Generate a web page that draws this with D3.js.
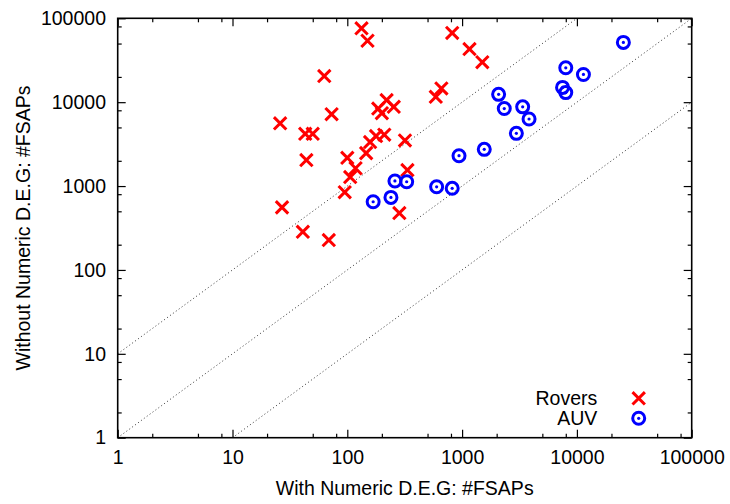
<!DOCTYPE html>
<html>
<head>
<meta charset="utf-8">
<script src="https://cdn.jsdelivr.net/npm/d3@7"></script>
<style>
  html, body { margin: 0; padding: 0; background: #fff; }
  svg { display: block; font-family: "Liberation Sans", Arial, Helvetica, sans-serif; }
</style>
</head>
<body>
<svg id="chart" width="730" height="504"></svg>
<script>
// #FSAPs counted with and without the numeric D.E.G., one point per model
const roversWith    = [133, 150, 820, 1160, 1500, 63, 73, 26, 43, 50, 44, 220, 186, 200, 254, 590, 660,
                       100, 158, 178, 210, 318, 146, 118, 106, 95, 334, 284, 27, 41, 69];
const roversWithout = [76000, 54000, 67000, 43000, 30000, 20500, 7200, 5600, 4200, 4200, 2040, 10600, 8400, 7400, 8800, 11600, 14600,
                       2170, 3350, 3950, 4100, 3500, 2470, 1630, 1280, 845, 1550, 477, 557, 285, 227];

const auvWith    = [168, 240, 260, 329, 600, 820, 940, 1560, 2080, 2330, 3370, 3830, 2970, 7500, 8000, 8000, 11400, 25400];
const auvWithout = [650, 733, 1150, 1125, 980, 940, 2300, 2740, 12400, 8400, 8800, 6300, 4250, 15000, 13000, 25700, 21400, 51600];

// Reference diagonals: without = factor * with
const diagonalFactors = [10, 1, 0.1];

const majorTicks = [1, 10, 100, 1000, 10000, 100000];
const minorTicks = [2, 5, 8, 20, 50, 80, 200, 500, 800, 2000, 5000, 8000, 20000, 50000, 80000];

const seriesNames = ["Rovers", "AUV"];
const xTitle = "With Numeric D.E.G: #FSAPs";
const yTitle = "Without Numeric D.E.G: #FSAPs";

const svg = d3.select("#chart");
const plotLeft = 117.7, plotRight = 691.7, plotTop = 18.3, plotBottom = 437.7;
const fontSize = 19.5;

const x = d3.scaleLog().domain([1, 100000]).range([plotLeft, plotRight]);
const y = d3.scaleLog().domain([1, 100000]).range([plotBottom, plotTop]);

svg.append("defs").append("clipPath").attr("id", "plot-clip")
  .append("rect").attr("x", plotLeft).attr("y", plotTop)
  .attr("width", plotRight - plotLeft).attr("height", plotBottom - plotTop);

// Dotted diagonals
const plot = svg.append("g").attr("clip-path", "url(#plot-clip)");
diagonalFactors.forEach(f => {
  const x0 = Math.max(1, 1 / f), x1 = Math.min(100000, 100000 / f);
  plot.append("line")
    .attr("x1", x(x0)).attr("y1", y(x0 * f))
    .attr("x2", x(x1)).attr("y2", y(x1 * f))
    .attr("stroke", "#333").attr("stroke-width", 1)
    .attr("stroke-dasharray", "1,2.6");
});

// Axes: majors carry labels, minors are short unlabeled ticks; all ticks point inward
function styleAxis(g) {
  g.select(".domain").remove();
  g.selectAll("line").attr("stroke", "#000").attr("stroke-width", 1.2);
  g.selectAll("text").attr("font-size", fontSize).attr("fill", "#000")
    .attr("font-family", "'Liberation Sans', Arial, Helvetica, sans-serif");
}
const fmt = d3.format("d");

svg.append("g").attr("transform", `translate(0,${plotBottom})`)
  .call(d3.axisBottom(x).tickValues(majorTicks).tickFormat(fmt).tickSizeInner(-8).tickSizeOuter(0).tickPadding(12.5))
  .call(styleAxis);
svg.append("g").attr("transform", `translate(0,${plotBottom})`)
  .call(d3.axisBottom(x).tickValues(minorTicks).tickFormat("").tickSizeInner(-4).tickSizeOuter(0))
  .call(styleAxis);
svg.append("g").attr("transform", `translate(0,${plotTop})`)
  .call(d3.axisTop(x).tickValues(majorTicks).tickFormat("").tickSizeInner(-8).tickSizeOuter(0))
  .call(styleAxis);
svg.append("g").attr("transform", `translate(0,${plotTop})`)
  .call(d3.axisTop(x).tickValues(minorTicks).tickFormat("").tickSizeInner(-4).tickSizeOuter(0))
  .call(styleAxis);

svg.append("g").attr("transform", `translate(${plotLeft},0)`)
  .call(d3.axisLeft(y).tickValues(majorTicks).tickFormat(fmt).tickSizeInner(-8).tickSizeOuter(0).tickPadding(11.7))
  .call(styleAxis);
svg.append("g").attr("transform", `translate(${plotLeft},0)`)
  .call(d3.axisLeft(y).tickValues(minorTicks).tickFormat("").tickSizeInner(-4).tickSizeOuter(0))
  .call(styleAxis);
svg.append("g").attr("transform", `translate(${plotRight},0)`)
  .call(d3.axisRight(y).tickValues(majorTicks).tickFormat("").tickSizeInner(-8).tickSizeOuter(0))
  .call(styleAxis);
svg.append("g").attr("transform", `translate(${plotRight},0)`)
  .call(d3.axisRight(y).tickValues(minorTicks).tickFormat("").tickSizeInner(-4).tickSizeOuter(0))
  .call(styleAxis);

// Frame
svg.append("rect")
  .attr("x", plotLeft).attr("y", plotTop)
  .attr("width", plotRight - plotLeft).attr("height", plotBottom - plotTop)
  .attr("fill", "none").attr("stroke", "#000").attr("stroke-width", 1.6);

// Markers
const crossSize = 6.2;
function drawCross(g, cx, cy) {
  g.append("path")
    .attr("d", `M${cx - crossSize},${cy - crossSize}L${cx + crossSize},${cy + crossSize}M${cx - crossSize},${cy + crossSize}L${cx + crossSize},${cy - crossSize}`)
    .attr("stroke", "#ff0000").attr("stroke-width", 3).attr("fill", "none");
}
function drawRing(g, cx, cy) {
  g.append("circle").attr("cx", cx).attr("cy", cy).attr("r", 6)
    .attr("fill", "none").attr("stroke", "#0000ff").attr("stroke-width", 3);
  g.append("circle").attr("cx", cx).attr("cy", cy).attr("r", 1.6).attr("fill", "#0000ff");
}

const rovers = d3.zip(roversWith, roversWithout);
const auv = d3.zip(auvWith, auvWithout);

const roverLayer = svg.append("g");
rovers.forEach(([a, b]) => drawCross(roverLayer, x(a), y(b)));
const auvLayer = svg.append("g");
auv.forEach(([a, b]) => drawRing(auvLayer, x(a), y(b)));

// Legend
const legend = svg.append("g").attr("font-size", fontSize);
[[seriesNames[0], 398.3, drawCross], [seriesNames[1], 418.3, drawRing]].forEach(([name, ly, draw]) => {
  legend.append("text").attr("x", 597.3).attr("y", ly).attr("dy", "0.35em")
    .attr("text-anchor", "end").text(name);
  draw(legend, 638.7, ly);
});

// Axis titles
svg.append("text")
  .attr("x", (plotLeft + plotRight) / 2).attr("y", 495)
  .attr("text-anchor", "middle").attr("font-size", fontSize).text(xTitle);
svg.append("text")
  .attr("transform", `translate(30,${(plotTop + plotBottom) / 2}) rotate(-90)`)
  .attr("text-anchor", "middle").attr("font-size", fontSize).text(yTitle);
</script>
</body>
</html>
